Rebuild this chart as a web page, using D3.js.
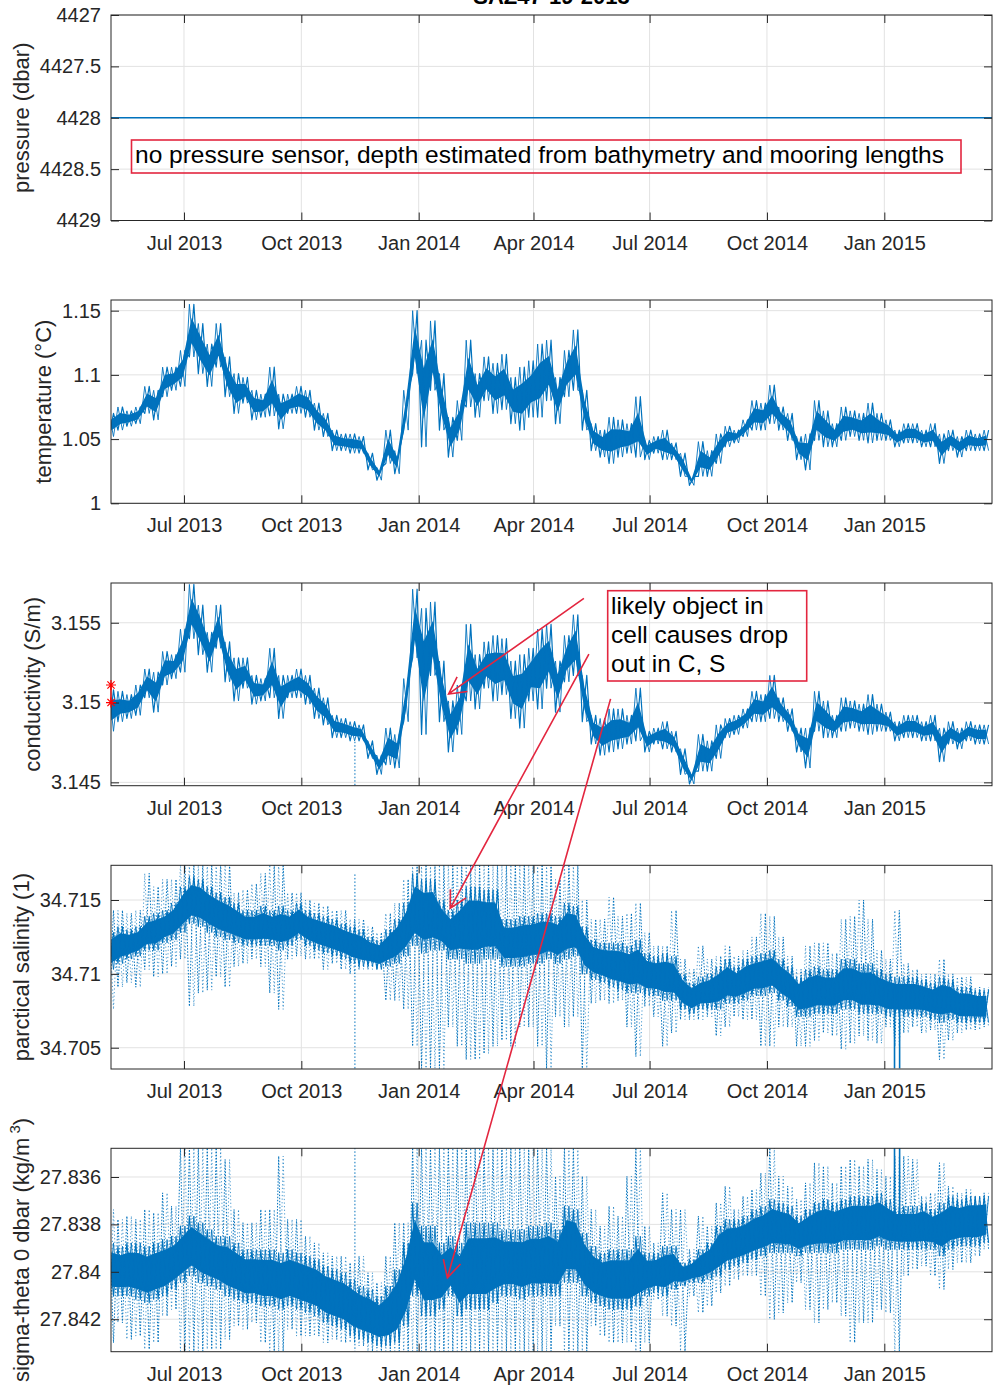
<!DOCTYPE html>
<html><head><meta charset="utf-8">
<script src="https://cdn.jsdelivr.net/npm/d3@7"></script>
<style>
body{margin:0;background:#fff}
svg{display:block}
text{font-family:"Liberation Sans",Arial,Helvetica,sans-serif}
</style>
</head><body>
<svg id="chart" width="996" height="1388"></svg>
<script>
// ---------------- DATA ----------------
const title = "SAZ47-19-2013";
const xDomain = ["2013-05-04T19:00:00Z", "2015-03-26T10:00:00Z"];
const xTickDates = ["2013-07-01","2013-10-01","2014-01-01","2014-04-01","2014-07-01","2014-10-01","2015-01-01"];
const xTickLabels = ["Jul 2013","Oct 2013","Jan 2014","Apr 2014","Jul 2014","Oct 2014","Jan 2015"];
// weekly samples (Sundays) from sampleStart up to sampleEnd
const sampleStart = "2013-05-05", sampleEnd = "2015-03-23";

const pressureDates = ["2013-05-04T19:00:00Z", "2015-03-26T10:00:00Z"];
const pressureValues = [4428, 4428];
const pressureTicks = [4427, 4427.5, 4428, 4428.5, 4429];
const pressureTickLabels = ["4427","4427.5","4428","4428.5","4429"];

const tempTicks = [1, 1.05, 1.1, 1.15];
const tempTickLabels = ["1","1.05","1.1","1.15"];
const tempLo = [1.052,1.057,1.060,1.062,1.070,1.065,1.083,1.088,1.091,1.114,
1.101,1.091,1.106,1.083,1.070,1.078,1.065,1.067,1.068,1.058,
1.070,1.070,1.067,1.057,1.052,1.041,1.041,1.039,1.039,1.026,
1.018,1.031,1.023,1.057,1.101,1.044,1.088,1.057,1.036,1.049,
1.075,1.067,1.080,1.070,1.073,1.062,1.057,1.067,1.067,1.080,
1.062,1.083,1.088,1.057,1.041,1.036,1.031,1.036,1.039,1.036,
1.034,1.039,1.034,1.034,1.021,1.014,1.021,1.021,1.031,1.044,
1.047,1.052,1.057,1.057,1.062,1.057,1.049,1.034,1.026,1.049,
1.044,1.044,1.049,1.052,1.049,1.047,1.049,1.049,1.044,1.047,
1.047,1.044,1.044,1.031,1.041,1.036,1.041,1.041,1.041];
const tempHi = [1.070,1.075,1.072,1.075,1.091,1.088,1.106,1.106,1.119,1.155,
1.140,1.124,1.140,1.114,1.101,1.098,1.088,1.085,1.106,1.085,
1.085,1.091,1.088,1.078,1.070,1.057,1.054,1.054,1.052,1.039,
1.028,1.057,1.041,1.088,1.150,1.127,1.142,1.101,1.067,1.080,
1.127,1.101,1.114,1.109,1.116,1.098,1.106,1.111,1.124,1.127,
1.098,1.119,1.135,1.088,1.062,1.057,1.067,1.065,1.062,1.083,
1.049,1.052,1.057,1.047,1.039,1.021,1.048,1.041,1.054,1.060,
1.057,1.065,1.080,1.078,1.092,1.075,1.070,1.052,1.054,1.080,
1.072,1.062,1.075,1.072,1.070,1.078,1.070,1.065,1.057,1.062,
1.062,1.057,1.062,1.054,1.057,1.052,1.057,1.054,1.057];

const condTicks = [3.145, 3.15, 3.155];
const condTickLabels = ["3.145","3.15","3.155"];
const condLo = [3.1482,3.1488,3.1490,3.1492,3.1503,3.1494,3.1511,3.1515,3.1519,3.1540,
3.1530,3.1519,3.1534,3.1513,3.1501,3.1509,3.1499,3.1501,3.1503,3.1490,
3.1503,3.1503,3.1499,3.1490,3.1486,3.1478,3.1478,3.1476,3.1476,3.1465,
3.1455,3.1461,3.1459,3.1488,3.1528,3.1480,3.1517,3.1488,3.1469,3.1480,
3.1501,3.1496,3.1509,3.1501,3.1505,3.1490,3.1484,3.1501,3.1496,3.1509,
3.1494,3.1513,3.1517,3.1488,3.1474,3.1467,3.1469,3.1471,3.1474,3.1476,
3.1469,3.1474,3.1471,3.1469,3.1455,3.1449,3.1457,3.1457,3.1465,3.1478,
3.1480,3.1484,3.1488,3.1488,3.1490,3.1488,3.1482,3.1469,3.1459,3.1482,
3.1478,3.1478,3.1482,3.1484,3.1482,3.1480,3.1482,3.1482,3.1476,3.1478,
3.1478,3.1476,3.1476,3.1463,3.1474,3.1471,3.1476,3.1474,3.1474];
const condHi = [3.1508,3.1507,3.1505,3.1511,3.1521,3.1519,3.1532,3.1530,3.1546,3.1574,
3.1561,3.1544,3.1561,3.1538,3.1528,3.1528,3.1517,3.1515,3.1534,3.1517,
3.1517,3.1521,3.1517,3.1509,3.1503,3.1492,3.1490,3.1488,3.1486,3.1476,
3.1467,3.1484,3.1480,3.1515,3.1571,3.1559,3.1563,3.1526,3.1501,3.1511,
3.1549,3.1530,3.1538,3.1542,3.1540,3.1526,3.1530,3.1534,3.1546,3.1549,
3.1526,3.1542,3.1555,3.1517,3.1492,3.1490,3.1496,3.1496,3.1492,3.1509,
3.1482,3.1484,3.1488,3.1482,3.1471,3.1457,3.1480,3.1476,3.1486,3.1490,
3.1492,3.1496,3.1507,3.1505,3.1517,3.1503,3.1496,3.1484,3.1484,3.1507,
3.1501,3.1492,3.1503,3.1501,3.1499,3.1505,3.1499,3.1494,3.1488,3.1492,
3.1492,3.1488,3.1492,3.1484,3.1488,3.1484,3.1488,3.1486,3.1486];
// in-situ calibration points (red asterisks) at deployment start
const calDates = ["2013-05-04T19:00:00Z", "2013-05-04T19:00:00Z"];
const calValues = [3.1511, 3.1500];

const salTicks = [34.705, 34.71, 34.715];
const salTickLabels = ["34.705","34.71","34.715"];
const salCoreHi = [34.7128,34.7132,34.7130,34.7132,34.7139,34.7141,34.7143,34.7148,34.7159,34.7166,
34.7164,34.7159,34.7155,34.7152,34.7148,34.7143,34.7143,34.7146,34.7143,34.7146,
34.7143,34.7148,34.7143,34.7141,34.7139,34.7137,34.7134,34.7132,34.7130,34.7125,
34.7123,34.7130,34.7137,34.7148,34.7168,34.7164,34.7164,34.7150,34.7143,34.7150,
34.7159,34.7159,34.7157,34.7157,34.7137,34.7137,34.7139,34.7139,34.7141,34.7141,
34.7139,34.7148,34.7146,34.7132,34.7123,34.7121,34.7121,34.7121,34.7119,34.7123,
34.7114,34.7112,34.7114,34.7112,34.7100,34.7094,34.7098,34.7100,34.7105,34.7110,
34.7105,34.7110,34.7112,34.7114,34.7116,34.7110,34.7105,34.7098,34.7103,34.7105,
34.7103,34.7103,34.7110,34.7110,34.7107,34.7107,34.7103,34.7100,34.7098,34.7098,
34.7098,34.7096,34.7094,34.7098,34.7096,34.7091,34.7091,34.7089,34.7089];
const salCoreLo = [34.7103,34.7107,34.7110,34.7112,34.7116,34.7116,34.7121,34.7123,34.7128,34.7134,
34.7132,34.7128,34.7125,34.7123,34.7121,34.7119,34.7119,34.7119,34.7119,34.7116,
34.7119,34.7123,34.7119,34.7116,34.7114,34.7112,34.7110,34.7107,34.7105,34.7105,
34.7103,34.7105,34.7107,34.7112,34.7119,34.7114,34.7116,34.7116,34.7110,34.7110,
34.7107,34.7107,34.7110,34.7110,34.7105,34.7105,34.7105,34.7107,34.7107,34.7110,
34.7107,34.7110,34.7112,34.7100,34.7096,34.7094,34.7091,34.7089,34.7087,34.7087,
34.7085,34.7085,34.7082,34.7082,34.7076,34.7073,34.7076,34.7076,34.7076,34.7080,
34.7080,34.7082,34.7085,34.7085,34.7087,34.7082,34.7078,34.7071,34.7071,34.7073,
34.7073,34.7073,34.7076,34.7076,34.7073,34.7073,34.7073,34.7071,34.7071,34.7071,
34.7071,34.7071,34.7069,34.7067,34.7069,34.7067,34.7067,34.7067,34.7067];
const salSpikeHi = [34.7143,34.7143,34.7141,34.7143,34.7168,34.7159,34.7164,34.7164,34.7174,34.7174,
34.7174,34.7174,34.7174,34.7174,34.7155,34.7157,34.7161,34.7168,34.7174,34.7174,
34.7155,34.7155,34.7150,34.7148,34.7146,34.7143,34.7143,34.7137,34.7137,34.7132,
34.7128,34.7141,34.7148,34.7164,34.7174,34.7174,34.7174,34.7174,34.7174,34.7174,
34.7174,34.7174,34.7174,34.7174,34.7174,34.7174,34.7174,34.7174,34.7174,34.7174,
34.7164,34.7174,34.7174,34.7150,34.7137,34.7137,34.7152,34.7139,34.7141,34.7148,
34.7128,34.7119,34.7119,34.7143,34.7110,34.7103,34.7119,34.7110,34.7112,34.7119,
34.7112,34.7116,34.7125,34.7141,34.7139,34.7125,34.7112,34.7103,34.7119,34.7121,
34.7121,34.7114,34.7137,34.7139,34.7150,34.7137,34.7116,34.7110,34.7143,34.7107,
34.7103,34.7100,34.7100,34.7110,34.7100,34.7098,34.7098,34.7091,34.7091];
const salSpikeLo = [34.7076,34.7091,34.7094,34.7091,34.7103,34.7098,34.7100,34.7105,34.7110,34.7078,
34.7087,34.7089,34.7098,34.7091,34.7105,34.7107,34.7110,34.7105,34.7087,34.7076,
34.7110,34.7112,34.7110,34.7110,34.7103,34.7107,34.7103,34.7100,34.7103,34.7103,
34.7103,34.7082,34.7082,34.7076,34.7051,34.7036,34.7036,34.7036,34.7064,34.7051,
34.7042,34.7042,34.7046,34.7051,34.7055,34.7051,34.7064,34.7064,34.7051,34.7036,
34.7071,34.7064,34.7071,34.7036,34.7080,34.7082,34.7080,34.7082,34.7064,34.7044,
34.7078,34.7071,34.7051,34.7060,34.7069,34.7069,34.7069,34.7071,34.7058,34.7064,
34.7071,34.7069,34.7069,34.7051,34.7051,34.7064,34.7064,34.7051,34.7051,34.7055,
34.7060,34.7058,34.7049,34.7053,34.7058,34.7055,34.7053,34.7064,34.7051,34.7060,
34.7064,34.7060,34.7062,34.7042,34.7055,34.7060,34.7062,34.7062,34.7064];

const sigTicks = [27.836, 27.838, 27.84, 27.842];
const sigTickLabels = ["27.836","27.838","27.84","27.842"];
const sigCoreTop = [27.83878,27.83892,27.83878,27.83878,27.83892,27.83878,27.83864,27.83850,27.83807,27.83765,
27.83793,27.83822,27.83850,27.83850,27.83878,27.83906,27.83906,27.83906,27.83906,27.83920,
27.83906,27.83920,27.83934,27.83948,27.83976,27.83990,27.84004,27.84032,27.84060,27.84074,
27.84103,27.84060,27.83990,27.83878,27.83709,27.83807,27.83807,27.83878,27.83850,27.83878,
27.83793,27.83793,27.83793,27.83793,27.83822,27.83822,27.83822,27.83807,27.83807,27.83793,
27.83822,27.83723,27.83737,27.83836,27.83892,27.83920,27.83906,27.83906,27.83906,27.83850,
27.83920,27.83920,27.83892,27.83892,27.83962,27.83948,27.83906,27.83878,27.83807,27.83779,
27.83779,27.83765,27.83737,27.83723,27.83695,27.83709,27.83723,27.83765,27.83737,27.83709,
27.83695,27.83709,27.83695,27.83681,27.83681,27.83681,27.83667,27.83695,27.83723,27.83723,
27.83723,27.83709,27.83737,27.83709,27.83681,27.83695,27.83681,27.83681,27.83681];
const sigCoreBot = [27.84103,27.84103,27.84103,27.84117,27.84131,27.84117,27.84103,27.84074,27.84046,27.84018,
27.84046,27.84060,27.84074,27.84103,27.84117,27.84131,27.84131,27.84145,27.84145,27.84159,
27.84145,27.84159,27.84173,27.84187,27.84215,27.84229,27.84243,27.84271,27.84285,27.84299,
27.84313,27.84313,27.84299,27.84229,27.84103,27.84187,27.84187,27.84159,27.84103,27.84187,
27.84159,27.84159,27.84159,27.84131,27.84103,27.84103,27.84117,27.84103,27.84103,27.84103,
27.84103,27.84046,27.84046,27.84103,27.84131,27.84145,27.84159,27.84159,27.84159,27.84145,
27.84103,27.84089,27.84103,27.84074,27.84060,27.84046,27.84046,27.84032,27.84018,27.83990,
27.83976,27.83962,27.83948,27.83934,27.83920,27.83920,27.83920,27.83934,27.83920,27.83920,
27.83920,27.83920,27.83906,27.83906,27.83906,27.83906,27.83892,27.83906,27.83906,27.83906,
27.83906,27.83906,27.83906,27.83934,27.83906,27.83892,27.83892,27.83892,27.83878];
const sigSpikeTop = [27.83737,27.83779,27.83765,27.83779,27.83737,27.83751,27.83667,27.83723,27.83477,27.83477,
27.83477,27.83477,27.83477,27.83526,27.83737,27.83793,27.83793,27.83737,27.83737,27.83512,
27.83779,27.83779,27.83850,27.83878,27.83920,27.83934,27.83934,27.83962,27.83934,27.84004,
27.84046,27.83934,27.83793,27.83793,27.83477,27.83477,27.83477,27.83477,27.83477,27.83477,
27.83477,27.83477,27.83477,27.83477,27.83477,27.83477,27.83477,27.83477,27.83477,27.83477,
27.83597,27.83477,27.83477,27.83597,27.83737,27.83807,27.83723,27.83765,27.83597,27.83477,
27.83807,27.83878,27.83667,27.83737,27.83737,27.83906,27.83765,27.83807,27.83709,27.83639,
27.83737,27.83681,27.83653,27.83583,27.83477,27.83597,27.83639,27.83695,27.83625,27.83540,
27.83554,27.83625,27.83554,27.83526,27.83554,27.83526,27.83569,27.83597,27.83512,27.83512,
27.83526,27.83681,27.83667,27.83540,27.83639,27.83667,27.83653,27.83681,27.83667];
const sigSpikeBot = [27.84299,27.84215,27.84285,27.84271,27.84327,27.84299,27.84187,27.84159,27.84335,27.84335,
27.84335,27.84327,27.84327,27.84285,27.84229,27.84243,27.84215,27.84299,27.84335,27.84335,
27.84243,27.84271,27.84271,27.84271,27.84299,27.84285,27.84299,27.84299,27.84313,27.84335,
27.84335,27.84335,27.84335,27.84335,27.84335,27.84335,27.84335,27.84335,27.84335,27.84335,
27.84335,27.84335,27.84335,27.84335,27.84335,27.84335,27.84335,27.84335,27.84335,27.84335,
27.84229,27.84335,27.84335,27.84335,27.84229,27.84271,27.84299,27.84299,27.84299,27.84335,
27.84299,27.84117,27.84187,27.84229,27.84335,27.84103,27.84173,27.84145,27.84089,27.84060,
27.84032,27.84018,27.84018,27.84103,27.84201,27.84173,27.84131,27.84046,27.84159,27.84215,
27.84159,27.84131,27.84187,27.84299,27.84215,27.84215,27.84159,27.84173,27.84335,27.84018,
27.83990,27.83976,27.84018,27.84074,27.83990,27.83962,27.83962,27.83934,27.83906];

// isolated full-depth dropouts (dotted) and solid glitches
const dropDates = ["2013-11-12"];
const condDropLo = [3.1446], condDropHi = [3.1476];
const salDropLo = [34.7036], salDropHi = [34.7168];
const sigDropTop = [27.83477], sigDropBot = [27.84335];
const glitchDates = ["2015-01-09", "2015-01-13"];
const salGlitchLo = [34.7036, 34.7036], salGlitchHi = [34.7091, 34.7089];
const sigGlitchTop = [27.83477, 27.83477], sigGlitchBot = [27.83779, 27.83765];

// annotation arrows: start (conductivity panel) -> tip (target panel)
const arrowStartDates = ["2014-05-10T12:00:00Z", "2014-05-14T10:00:00Z", "2014-05-31T10:00:00Z"];
const arrowStartValues = [3.15653, 3.15303, 3.15023];
const arrowTipDates = ["2014-01-24T10:00:00Z", "2014-01-25T17:00:00Z", "2014-01-23T12:00:00Z"];
const arrowTipValues = [3.15054, 34.71444, 27.84025];
const arrowTipPanels = ["c", "s", "sig"];

// ---------------- DRAWING ----------------
const BLUE = "#0072BD", RED = "#e3263f", AX = "#262626", GRID = "#e2e2e2";
const svg = d3.select("#chart");
const X0 = 111, X1 = 992;
const x = d3.scaleUtc().domain(xDomain.map(d => new Date(d))).range([X0, X1]);
const xTicks = xTickDates.map(d => new Date(d + "T00:00:00Z"));
const sampleDates = d3.utcSunday.range(new Date(sampleStart + "T00:00:00Z"), new Date(sampleEnd + "T00:00:00Z"));
const HALF = 1.75 * 864e5;

const panels = [
  {key:"p", top:15, bottom:220.5, vBottom:4429, vTop:4427, ticks:pressureTicks, labels:pressureTickLabels, ylabel:"pressure (dbar)"},
  {key:"t", top:300, bottom:503.3, vBottom:1.0, vTop:1.1583, ticks:tempTicks, labels:tempTickLabels, ylabel:"temperature (°C)"},
  {key:"c", top:583, bottom:785.7, vBottom:3.14479, vTop:3.15749, ticks:condTicks, labels:condTickLabels, ylabel:"conductivity (S/m)"},
  {key:"s", top:865.3, bottom:1069, vBottom:34.70356, vTop:34.71735, ticks:salTicks, labels:salTickLabels, ylabel:"parctical salinity (1)"},
  {key:"sig", top:1148.3, bottom:1351.7, vBottom:27.84337, vTop:27.83479, ticks:sigTicks, labels:sigTickLabels, ylabel:null}
];
const Y = {};
panels.forEach(p => { Y[p.key] = d3.scaleLinear().domain([p.vBottom, p.vTop]).range([p.bottom, p.top]); });

function styleAxis(g) {
  g.select(".domain").remove();
  g.attr("font-family", null).attr("font-size", null);
  g.selectAll(".tick line").attr("stroke", AX).attr("stroke-width", 1);
  g.selectAll(".tick text").attr("fill", AX).style("font-size", "20px")
    .style("font-family", '"Liberation Sans",Arial,Helvetica,sans-serif');
}

// zigzag through each weekly (lo, hi) pair; phase flips which comes first
function zigPts(lo, hi, y, phase) {
  const pts = [];
  sampleDates.forEach((d, i) => {
    const a = phase ? hi[i] : lo[i], b = phase ? lo[i] : hi[i];
    pts.push([x(new Date(+d - HALF)), y(a)]);
    pts.push([x(new Date(+d + HALF)), y(b)]);
  });
  return pts;
}
function band(g, lo, hi, y, inset) {
  const area = d3.area()
    .x(d => x(d))
    .y0((d, i) => y(lo[i] + inset * (hi[i] - lo[i])))
    .y1((d, i) => y(hi[i] - inset * (hi[i] - lo[i])));
  g.append("path").attr("d", area(sampleDates)).attr("fill", BLUE);
}
function zig(g, lo, hi, y, w, dash, phase, op) {
  const p = g.append("path").attr("d", d3.line()(zigPts(lo, hi, y, phase)))
    .attr("fill", "none").attr("stroke", BLUE).attr("stroke-width", w).attr("stroke-linejoin", "round");
  if (dash) p.attr("stroke-dasharray", dash);
  if (op) p.attr("stroke-opacity", op);
}
function vlines(g, dates, a, b, y, w, dash) {
  dates.forEach((d, i) => {
    const t = new Date(d + "T00:00:00Z");
    const l = g.append("line").attr("x1", x(t)).attr("x2", x(t)).attr("y1", y(a[i])).attr("y2", y(b[i]))
      .attr("stroke", BLUE).attr("stroke-width", w);
    if (dash) l.attr("stroke-dasharray", dash);
  });
}

const defs = svg.append("defs");

panels.forEach((p, pi) => {
  const y = Y[p.key];
  const g = svg.append("g");
  // grid
  g.append("g").selectAll("line").data(xTicks).join("line")
    .attr("x1", d => x(d)).attr("x2", d => x(d)).attr("y1", p.top).attr("y2", p.bottom)
    .attr("stroke", GRID).attr("stroke-width", 1);
  g.append("g").selectAll("line").data(p.ticks).join("line")
    .attr("x1", X0).attr("x2", X1).attr("y1", d => y(d)).attr("y2", d => y(d))
    .attr("stroke", GRID).attr("stroke-width", 1);

  defs.append("clipPath").attr("id", "clip" + pi).append("rect")
    .attr("x", X0).attr("y", p.top).attr("width", X1 - X0).attr("height", p.bottom - p.top);
  const dg = g.append("g").attr("clip-path", `url(#clip${pi})`);

  if (p.key === "p") {
    dg.append("path").attr("d", d3.line().x(d => x(new Date(d[0]))).y(d => y(d[1]))(pressureDates.map((d, i) => [d, pressureValues[i]])))
      .attr("fill", "none").attr("stroke", BLUE).attr("stroke-width", 1.3);
  } else if (p.key === "t") {
    band(dg, tempLo, tempHi, y, 0.26);
    zig(dg, tempLo, tempHi, y, 1.2, null, false);
    zig(dg, tempLo, tempHi, y, 0.9, null, true);
  } else if (p.key === "c") {
    band(dg, condLo, condHi, y, 0.26);
    zig(dg, condLo, condHi, y, 1.2, null, false);
    zig(dg, condLo, condHi, y, 0.9, null, true);
    vlines(dg, dropDates, condDropLo, condDropHi, y, 1, "1.5 2");
  } else if (p.key === "s") {
    zig(dg, salSpikeLo, salSpikeHi, y, 1, "1.5 1.6", false, 1);
    zig(dg, salSpikeLo, salSpikeHi, y, 0.9, "1.2 2.4", true, 0.8);
    band(dg, salCoreLo, salCoreHi, y, 0.18);
    zig(dg, salCoreLo, salCoreHi, y, 1.1, null, false);
    zig(dg, salCoreLo, salCoreHi, y, 0.9, null, true);
    vlines(dg, dropDates, salDropLo, salDropHi, y, 1, "1.5 2");
    vlines(dg, glitchDates, salGlitchLo, salGlitchHi, y, 1.6);
  } else if (p.key === "sig") {
    zig(dg, sigSpikeTop, sigSpikeBot, y, 1, "1.5 1.6", false, 1);
    zig(dg, sigSpikeTop, sigSpikeBot, y, 0.9, "1.2 2.4", true, 0.8);
    band(dg, sigCoreTop, sigCoreBot, y, 0.18);
    zig(dg, sigCoreTop, sigCoreBot, y, 1.1, null, false);
    zig(dg, sigCoreTop, sigCoreBot, y, 0.9, null, true);
    vlines(dg, dropDates, sigDropTop, sigDropBot, y, 1, "1.5 2");
    vlines(dg, glitchDates, sigGlitchTop, sigGlitchBot, y, 1.6);
  }

  // axes (ticks inward on all four sides)
  g.append("g").attr("transform", `translate(0,${p.bottom})`)
    .call(d3.axisBottom(x).tickValues(xTicks).tickFormat((d, i) => xTickLabels[i]).tickSizeInner(-8).tickSizeOuter(0).tickPadding(15))
    .call(styleAxis);
  g.append("g").attr("transform", `translate(0,${p.top})`)
    .call(d3.axisTop(x).tickValues(xTicks).tickFormat("").tickSizeInner(-8).tickSizeOuter(0))
    .call(styleAxis);
  const la = g.append("g").attr("transform", `translate(${X0},0)`)
    .call(d3.axisLeft(y).tickValues(p.ticks).tickFormat((d, i) => p.labels[i]).tickSizeInner(-8).tickSizeOuter(0).tickPadding(10))
    .call(styleAxis);
  g.append("g").attr("transform", `translate(${X1},0)`)
    .call(d3.axisRight(y).tickValues(p.ticks).tickFormat("").tickSizeInner(-8).tickSizeOuter(0))
    .call(styleAxis);
  g.append("rect").attr("x", X0).attr("y", p.top).attr("width", X1 - X0).attr("height", p.bottom - p.top)
    .attr("fill", "none").attr("stroke", AX).attr("stroke-width", 1);

  // y label
  let minX = Infinity;
  la.selectAll(".tick text").each(function () { const b = this.getBBox(); minX = Math.min(minX, b.x); });
  const bx = X0 + minX - 11, cy = (p.top + p.bottom) / 2;
  const yl = svg.append("text").attr("transform", `translate(${bx},${cy}) rotate(-90)`)
    .attr("text-anchor", "middle").attr("fill", AX).style("font-size", "22px");
  if (p.ylabel) yl.text(p.ylabel);
  else {
    yl.append("tspan").text("sigma-theta 0 dbar (kg/m");
    yl.append("tspan").attr("dx", 4).attr("dy", -9).style("font-size", "15px").text("3");
    yl.append("tspan").attr("dy", 9).text(")");
  }
});

// title
svg.append("text").attr("x", (X0 + X1) / 2).attr("y", 4).attr("text-anchor", "middle")
  .style("font-size", "22px").style("font-weight", "bold").attr("fill", "#000").text(title);

// red asterisks (calibration points) on conductivity panel
const yc = Y.c;
const calPts = calDates.map((d, i) => [x(new Date(d)), yc(calValues[i])]);
svg.append("path").attr("d", d3.line()(calPts)).attr("stroke", "red").attr("stroke-width", 1.2).attr("fill", "none");
calPts.forEach(([px, py]) => {
  const r = 5, q = 3.6;
  svg.append("path")
    .attr("d", `M${px - r},${py}L${px + r},${py}M${px},${py - r}L${px},${py + r}M${px - q},${py - q}L${px + q},${py + q}M${px - q},${py + q}L${px + q},${py - q}`)
    .attr("stroke", "red").attr("stroke-width", 1.2).attr("fill", "none");
});

// annotation text boxes
function textBox(bx, by, bw, bh, lines, tx, ty0, lh) {
  svg.append("rect").attr("x", bx).attr("y", by).attr("width", bw).attr("height", bh)
    .attr("fill", "none").attr("stroke", RED).attr("stroke-width", 1.6);
  lines.forEach((t, i) => svg.append("text").attr("x", tx).attr("y", ty0 + i * lh)
    .style("font-size", "24.5px").attr("fill", "#000").text(t));
}
textBox(131.5, 140, 829.5, 33, ["no pressure sensor, depth estimated from bathymetry and mooring lengths"], 135, 162.5, 0);
textBox(607.7, 590.7, 199, 90.3, ["likely object in", "cell causes drop", "out in C, S"], 611, 613.5, 29.2);

// arrows
arrowStartDates.forEach((d, i) => {
  const x1 = x(new Date(d)), y1 = Y.c(arrowStartValues[i]);
  const x2 = x(new Date(arrowTipDates[i])), y2 = Y[arrowTipPanels[i]](arrowTipValues[i]);
  const ang = Math.atan2(y1 - y2, x1 - x2), L = 19, a = 28 * Math.PI / 180;
  const b1 = [x2 + L * Math.cos(ang + a), y2 + L * Math.sin(ang + a)];
  const b2 = [x2 + L * Math.cos(ang - a), y2 + L * Math.sin(ang - a)];
  svg.append("path").attr("d", `M${x1},${y1}L${x2},${y2}M${b1[0]},${b1[1]}L${x2},${y2}L${b2[0]},${b2[1]}`)
    .attr("fill", "none").attr("stroke", RED).attr("stroke-width", 1.6).attr("stroke-linejoin", "miter");
});
</script>
</body></html>
